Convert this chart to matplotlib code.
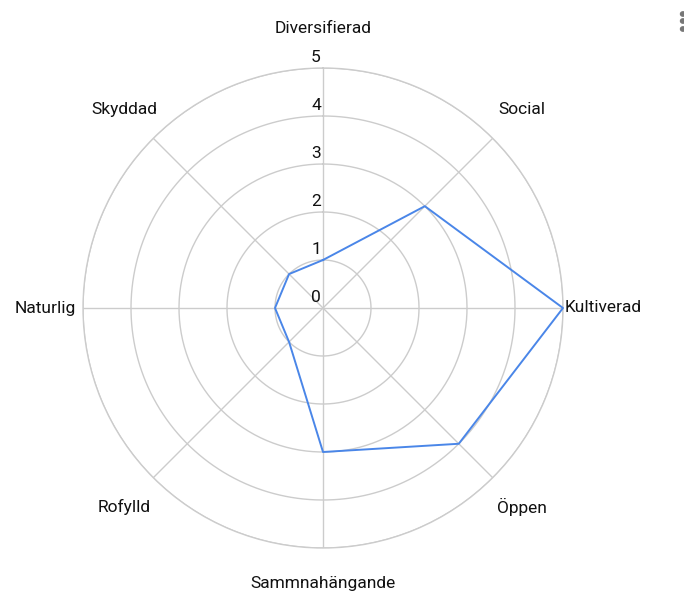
import numpy as np
import matplotlib
matplotlib.use("Agg")
import matplotlib.pyplot as plt
from matplotlib.patches import Circle

categories = ["Diversifierad", "Social", "Kultiverad", "Öppen",
              "Sammnahängande", "Rofylld", "Naturlig", "Skyddad"]
values = [1, 3, 5, 4, 3, 1, 1, 1]
rticks = [0, 1, 2, 3, 4, 5]

plt.rcParams['font.family'] = ['Roboto', 'DejaVu Sans']

W, H = 684, 598
fig = plt.figure(figsize=(W/100, H/100), dpi=100)
cx, cy, R = 323, 308, 240
ax = fig.add_axes([(cx-R)/W, (H-cy-R)/H, 2*R/W, 2*R/H], projection='polar')
ax.set_theta_zero_location('N')
ax.set_theta_direction(-1)
ax.set_ylim(0, 5)

n = len(categories)
angles = np.arange(n) * 2*np.pi/n
grid_c = '#cccccc'
ax.grid(False)
ax.set_xticks([])
ax.set_yticks([])
ax.spines['polar'].set_color(grid_c)
ax.spines['polar'].set_linewidth(1.0)

th = np.linspace(0, 2*np.pi, 400)
for r in rticks[1:]:
    ax.plot(th, np.full_like(th, r), color=grid_c, lw=1.0, zorder=1)
for a in angles:
    ax.plot([a, a], [0, 5], color=grid_c, lw=1.0, zorder=1)

vals = values + values[:1]
angs = list(angles) + [angles[0]]
ax.plot(angs, vals, color='#4a86e8', lw=1.4, zorder=3, clip_on=False)

fs = 12.5
tc = '#111111'
for r in rticks:
    ax.annotate(str(r), xy=(0, r), xytext=(-7, 10), textcoords='offset pixels',
                ha='center', va='center', fontsize=fs, color=tc)

lab_r = {0: 5.83, 4: 5.73}
for i, (a, c) in enumerate(zip(angles, categories)):
    if i == 2:
        ax.text(a, 5.04, c, ha='left', va='center', fontsize=fs, color=tc)
    elif i == 6:
        ax.text(a, 5.15, c, ha='right', va='center', fontsize=fs, color=tc)
    else:
        ax.text(a, lab_r.get(i, 5.85), c, ha='center', va='center', fontsize=fs, color=tc)

for yy in [14, 21, 29]:
    fig.patches.append(Circle((683/W, 1-yy/H), 2.5/W, transform=fig.transFigure,
                              color='#777777'))

fig.savefig('out.png', dpi=100)
